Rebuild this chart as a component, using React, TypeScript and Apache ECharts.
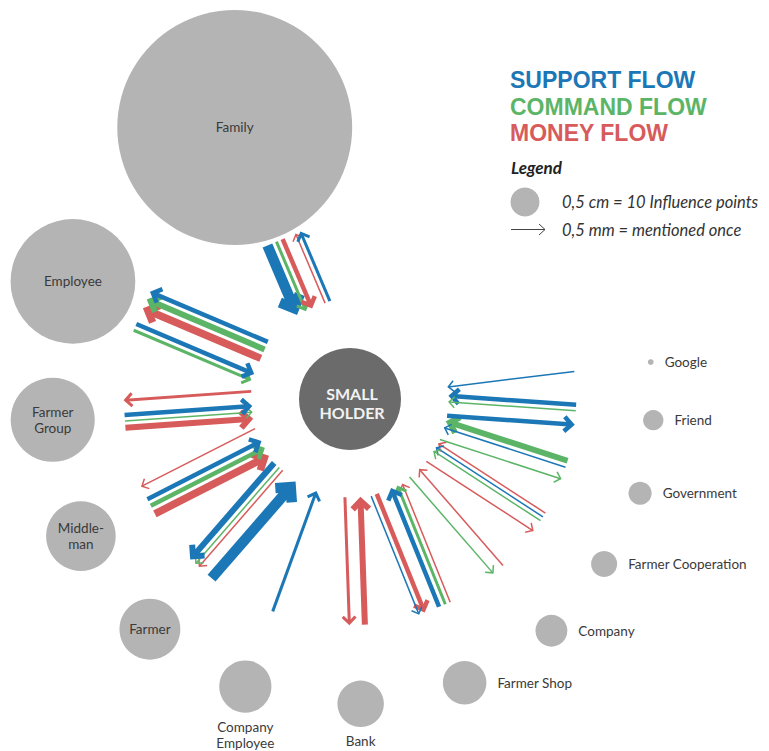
import React, { useEffect, useRef } from "react";
import * as echarts from "echarts";

// ---------- DATA ----------
const nodeNames = ["Family", "Employee", "Farmer Group", "Middle-man", "Farmer", "Company Employee", "Bank", "Farmer Shop", "Company", "Farmer Cooperation", "Government", "Friend", "Google"];
const nodeLabels = ["Family", "Employee", "Farmer\nGroup", "Middle-\nman", "Farmer", "Company\nEmployee", "Bank", "Farmer Shop", "Company", "Farmer Cooperation", "Government", "Friend", "Google"];
// influence points (0,5 cm = 10 points)
const influencePoints = [81, 43, 29, 24, 21, 18, 16, 15, 11, 9, 8, 7, 2];
// placement around the small holder (angle in degrees, counter-clockwise from east; distance)
const nodeAngles = [113, 157, 184, 207, 229, 250, 272, 292, 311, 327, 342, 356, 7];
const nodeDistances = [295, 301, 298, 302, 305, 306, 305, 306, 307, 303, 305, 304, 303];

const flowNames = ["SUPPORT FLOW", "COMMAND FLOW", "MONEY FLOW"];

// arrows, per actor, listed from the counter-clockwise side to the clockwise side
// flow: S = support, C = command, M = money; direction: in = to small holder, out = to actor
const arrowNode = [
  "Family", "Family", "Family", "Family", "Family",
  "Employee", "Employee", "Employee", "Employee", "Employee",
  "Farmer Group", "Farmer Group", "Farmer Group", "Farmer Group",
  "Middle-man", "Middle-man", "Middle-man", "Middle-man",
  "Farmer", "Farmer", "Farmer", "Farmer",
  "Company Employee",
  "Bank", "Bank",
  "Farmer Shop", "Farmer Shop", "Farmer Shop", "Farmer Shop", "Farmer Shop",
  "Company", "Company",
  "Farmer Cooperation", "Farmer Cooperation", "Farmer Cooperation", "Farmer Cooperation",
  "Government", "Government", "Government",
  "Friend", "Friend", "Friend",
  "Google",
];
const arrowFlow = [
  "S", "C", "M", "M", "S",
  "C", "S", "M", "C", "S",
  "M", "C", "S", "M",
  "M", "C", "S", "M",
  "S", "M", "C", "S",
  "S",
  "M", "M",
  "M", "C", "S", "M", "S",
  "M", "C",
  "M", "S", "C", "M",
  "C", "S", "C",
  "S", "C", "S",
  "S",
];
const arrowDirection = [
  "in", "in", "in", "out", "out",
  "in", "in", "out", "out", "out",
  "in", "in", "in", "out",
  "in", "in", "in", "out",
  "in", "out", "out", "out",
  "in",
  "in", "out",
  "in", "in", "in", "out", "out",
  "in", "out",
  "in", "in", "in", "out",
  "in", "in", "out",
  "in", "in", "out",
  "in",
];
const arrowMentions = [
  7, 2, 3, 1, 2,
  2, 3, 5, 4, 3,
  4, 1, 3, 2,
  5, 3, 3, 1,
  7, 1, 1, 4,
  2,
  4, 2,
  1, 2, 3, 3, 1,
  1, 1,
  1, 1, 1, 1,
  4, 1, 1,
  3, 1, 3,
  1,
];

// ---------- STYLE ----------
const FONT = 'Lato, "Open Sans", sans-serif';
const TITLE_FONT = '"Liberation Sans", Arial, sans-serif';
const FLOW_COLORS: Record<string, string> = { S: "#1b77b6", C: "#5cb567", M: "#d75b5b" };
const TITLE_COLORS = [FLOW_COLORS.S, FLOW_COLORS.C, FLOW_COLORS.M];
const NODE_COLOR = "#b4b4b4";
const HOLDER_COLOR = "#6b6b6b";
const PX_PER_POINT = 2.9; // circle diameter per influence point
const PX_PER_MENTION = 1.5; // arrow width per mention
const R_IN = 98;
const R_OUT = 226;
const GAP_SAME = 3;
const GAP_TURN = 11;
const labelPlacement: Record<string, string> = {
  Family: "inside", Employee: "inside", "Farmer Group": "inside", "Middle-man": "inside", Farmer: "inside",
  "Company Employee": "bottom", Bank: "bottom",
};

const arrowWidth = arrowMentions.map((m) => m * PX_PER_MENTION);
const arrowNodeIndex = arrowNode.map((n) => nodeNames.indexOf(n));
const arrowOffset: number[] = [];
nodeNames.forEach((name) => {
  const idx = arrowNode.map((n, i) => (n === name ? i : -1)).filter((i) => i >= 0);
  let pos = 0;
  const centers: number[] = [];
  idx.forEach((i, k) => {
    if (k > 0) pos += arrowDirection[i] === arrowDirection[idx[k - 1]] ? GAP_SAME : GAP_TURN;
    centers.push(pos + arrowWidth[i] / 2);
    pos += arrowWidth[i];
  });
  idx.forEach((i, k) => {
    arrowOffset[i] = pos / 2 - centers[k];
  });
});

function rot(v: number[], a: number) {
  const c = Math.cos(a), s = Math.sin(a);
  return [v[0] * c - v[1] * s, v[0] * s + v[1] * c];
}

export default function App() {
  const ref = useRef<HTMLDivElement>(null);
  useEffect(() => {
    if (!ref.current) return;
    const chart = echarts.init(ref.current, undefined, { renderer: "svg" });

    const nodeData = nodeNames.map((name, i) => {
      const place = labelPlacement[name] || "right";
      return {
        name,
        value: [nodeDistances[i], nodeAngles[i]],
        symbolSize: influencePoints[i] * PX_PER_POINT,
        label: {
          show: true,
          formatter: nodeLabels[i],
          position: place,
          distance: place === "right" ? 11 : 6,
          align: place === "right" ? "left" : "center",
          color: "#3a3a3a",
          fontFamily: FONT,
          fontSize: 13.5,
          lineHeight: 16,
        },
      };
    });

    const arrowData = arrowNode.map((_, i) => [
      nodeDistances[arrowNodeIndex[i]],
      nodeAngles[arrowNodeIndex[i]],
      i,
    ]);

    const textStyle = (text: string, fill: string, font: string) => ({
      text,
      fill,
      font,
      textAlign: "left",
      textVerticalAlign: "middle",
      align: "left",
      verticalAlign: "middle",
    });

    const option: any = {
      animation: false,
      backgroundColor: "#ffffff",
      polar: { center: [350, 399], radius: 400 },
      angleAxis: {
        type: "value", min: 0, max: 360, startAngle: 0, clockwise: false, show: false,
        axisLine: { show: false }, splitLine: { show: false }, axisTick: { show: false }, axisLabel: { show: false },
      },
      radiusAxis: {
        type: "value", min: 0, max: 400, show: false,
        axisLine: { show: false }, splitLine: { show: false }, axisTick: { show: false }, axisLabel: { show: false },
      },
      series: [
        {
          type: "scatter",
          coordinateSystem: "polar",
          data: nodeData,
          itemStyle: { color: NODE_COLOR, opacity: 1 },
          emphasis: { disabled: true },
          z: 1,
        },
        {
          type: "scatter",
          coordinateSystem: "polar",
          data: [{ name: "Small Holder", value: [0, 0] }],
          symbolSize: 102,
          itemStyle: { color: HOLDER_COLOR, opacity: 1 },
          label: {
            show: true,
            position: "inside",
            formatter: "SMALL\nHOLDER",
            color: "#f2f2f2",
            fontFamily: FONT,
            fontWeight: "bold",
            fontSize: 16,
            lineHeight: 19.5,
            offset: [2, 4],
          },
          emphasis: { disabled: true },
          z: 1,
        },
        {
          type: "custom",
          coordinateSystem: "polar",
          dimensions: ["radius", "angle", "idx"],
          encode: { radius: 0, angle: 1 },
          data: arrowData,
          z: 3,
          renderItem: (_params: any, api: any) => {
            const i = api.value(2);
            const ni = arrowNodeIndex[i];
            const theta = api.value(1);
            const nodeR = (influencePoints[ni] * PX_PER_POINT) / 2;
            const rOut = Math.min(R_OUT, api.value(0) - nodeR - 4);
            const pIn = api.coord([R_IN, theta]);
            const pOut = api.coord([rOut, theta]);
            let ux = pOut[0] - pIn[0], uy = pOut[1] - pIn[1];
            const len = Math.hypot(ux, uy);
            ux /= len; uy /= len;
            const px = uy, py = -ux; // counter-clockwise side
            const off = arrowOffset[i];
            const a = [pIn[0] + px * off, pIn[1] + py * off];
            const b = [pOut[0] + px * off, pOut[1] + py * off];
            const inward = arrowDirection[i] === "in";
            const tip = inward ? a : b;
            const tail = inward ? b : a;
            const w = arrowWidth[i];
            let dx = tip[0] - tail[0], dy = tip[1] - tail[1];
            const dl = Math.hypot(dx, dy);
            dx /= dl; dy /= dl;
            const tipAdj = [tip[0] - dx * 0.7 * w, tip[1] - dy * 0.7 * w];
            const L = 6.5 + 0.85 * w;
            const back = [-dx * L, -dy * L];
            const r1 = rot(back, Math.PI / 4);
            const r2 = rot(back, -Math.PI / 4);
            const color = FLOW_COLORS[arrowFlow[i]];
            return {
              type: "group",
              children: [
                {
                  type: "line",
                  shape: { x1: tail[0], y1: tail[1], x2: tipAdj[0], y2: tipAdj[1] },
                  style: { stroke: color, lineWidth: w, lineCap: "butt", fill: "none" },
                },
                {
                  type: "polyline",
                  shape: {
                    points: [
                      [tipAdj[0] + r1[0], tipAdj[1] + r1[1]],
                      tipAdj,
                      [tipAdj[0] + r2[0], tipAdj[1] + r2[1]],
                    ],
                  },
                  style: { stroke: color, lineWidth: w, lineJoin: "miter", lineCap: "butt", fill: "none" },
                },
              ],
            };
          },
        },
      ],
      graphic: [
        ...flowNames.map((t, k) => ({
          type: "text",
          x: 510,
          y: 80 + k * 26.5,
          style: textStyle(t, TITLE_COLORS[k], `bold 23px ${TITLE_FONT}`),
        })),
        { type: "text", x: 511, y: 167, style: textStyle("Legend", "#222", `italic bold 17px ${FONT}`) },
        { type: "circle", shape: { cx: 525, cy: 202, r: 14.5 }, style: { fill: NODE_COLOR } },
        { type: "text", x: 562, y: 202, style: textStyle("0,5 cm = 10 Influence points", "#333", `italic 16.5px ${FONT}`) },
        { type: "line", shape: { x1: 511, y1: 229.5, x2: 545, y2: 229.5 }, style: { stroke: "#444", lineWidth: 1 } },
        {
          type: "polyline",
          shape: { points: [[539, 224], [545, 229.5], [539, 235]] },
          style: { stroke: "#444", lineWidth: 1, fill: "none" },
        },
        { type: "text", x: 562, y: 230, style: textStyle("0,5 mm = mentioned once", "#333", `italic 16.5px ${FONT}`) },
      ],
    };
    chart.setOption(option);
    return () => chart.dispose();
  }, []);

  return (
    <div
      ref={ref}
      style={{ position: "fixed", left: 0, top: 0, width: "769px", height: "751px", background: "#fff" }}
    />
  );
}
